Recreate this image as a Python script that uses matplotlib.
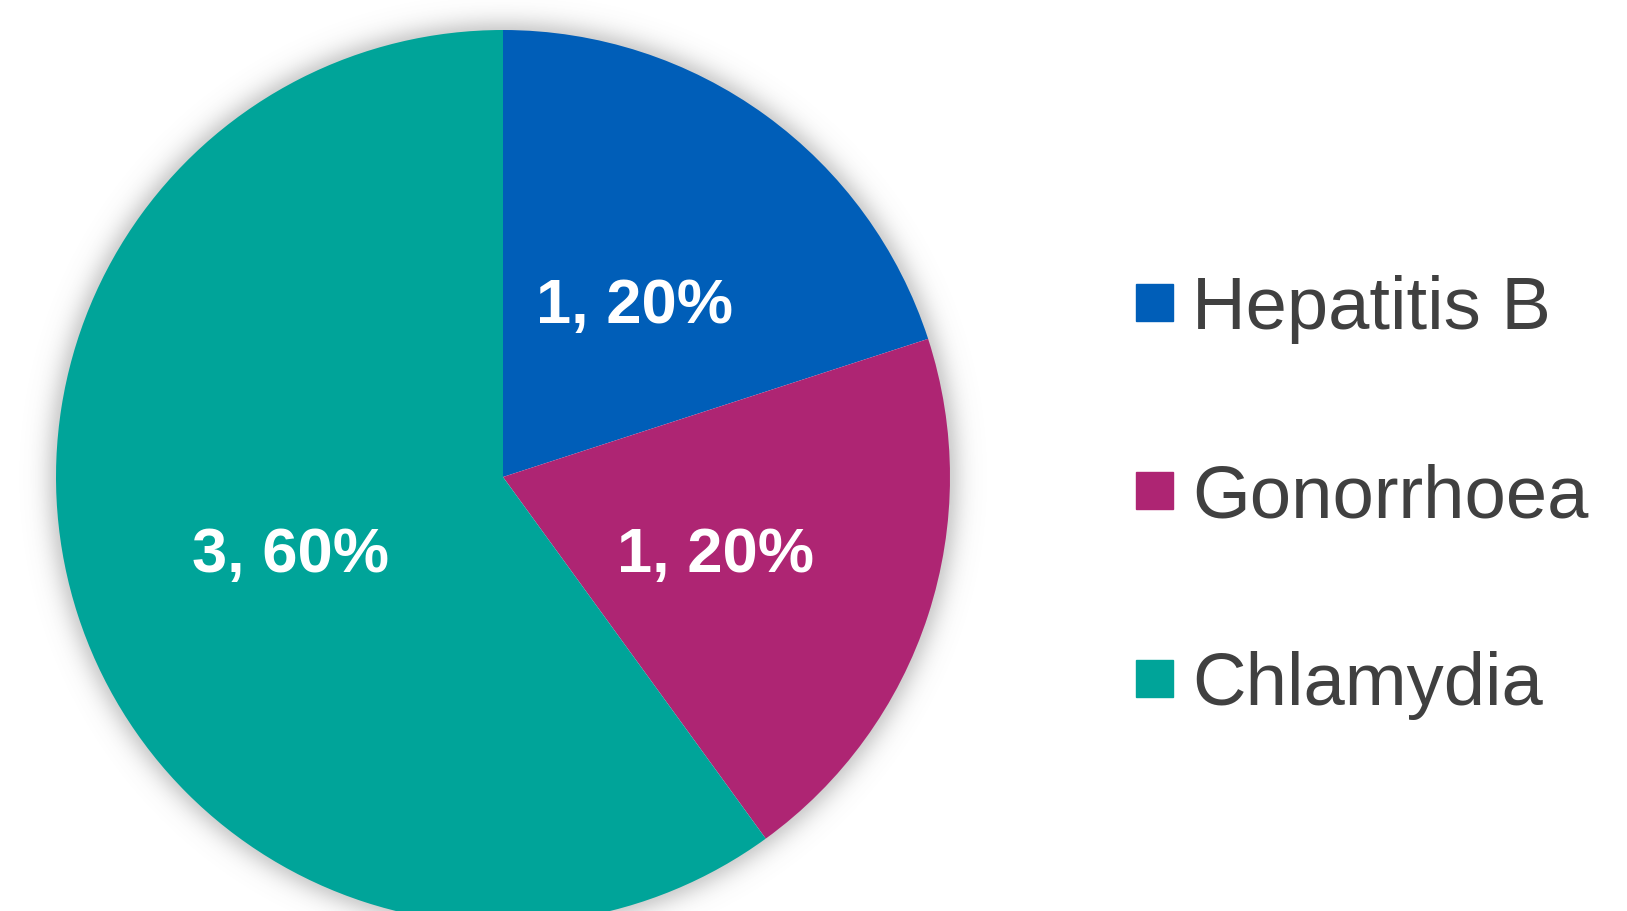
import matplotlib as mpl
import matplotlib.pyplot as plt
import numpy as np
from matplotlib.patches import Rectangle

mpl.rcParams['font.family'] = ['Liberation Sans', 'DejaVu Sans']

labels = ['Hepatitis B', 'Gonorrhoea', 'Chlamydia']
counts = [1, 1, 3]
colors = ['#005EB8', '#AE2573', '#00A499']

W, H = 1627, 911
cx, cy, R = 503, 477, 447   # pie centre / radius in pixels

fig = plt.figure(figsize=(W / 100, H / 100), dpi=100)
ax = fig.add_axes([0, 0, 1, 1])
ax.set_xlim(-cx / R, (W - cx) / R)
ax.set_ylim(-(H - cy) / R, cy / R)
ax.set_aspect('equal')
ax.axis('off')

# soft shadow behind the pie
xs = np.linspace(-cx / R, (W - cx) / R, W)
ys = np.linspace(cy / R, -(H - cy) / R, H)
X, Y = np.meshgrid(xs, ys)
d = (np.sqrt(X ** 2 + Y ** 2) - 1.0) * R
alpha = np.where(d > -2, 0.30 * np.exp(-(np.clip(d, 0, None) / 14.0) ** 1.5), 0)
img = np.zeros((H, W, 4))
img[..., :3] = 0.4
img[..., 3] = alpha
ax.imshow(img, extent=[xs[0], xs[-1], ys[-1], ys[0]], zorder=0, interpolation='bilinear')

total = sum(counts)
wedges, texts, autotexts = ax.pie(
    counts, colors=colors, startangle=90, counterclock=False, radius=1.0,
    autopct=lambda p: '{:.0f}, {:.0f}%'.format(p * total / 100, p),
    pctdistance=0.5, wedgeprops=dict(linewidth=0), frame=False)
ax.set_xlim(-cx / R, (W - cx) / R)
ax.set_ylim(-(H - cy) / R, cy / R)
for t in autotexts:
    t.set_color('white')
    t.set_fontsize(45.5)
    t.set_fontweight('bold')
    x, y = t.get_position()
    t.set_position((x, y - 0.022))

# legend
leg_y = [302, 490, 678]
for lab, col, y in zip(labels, colors, leg_y):
    fig.patches.append(Rectangle((1136 / W, (H - y - 18.5) / H), 37 / W, 37 / H,
                                 transform=fig.transFigure, color=col))
    fig.text(1192 / W, (H - y) / H, lab, fontsize=53.5, color='#404040',
             va='center_baseline', ha='left')

plt.savefig('out.png', dpi=100)
